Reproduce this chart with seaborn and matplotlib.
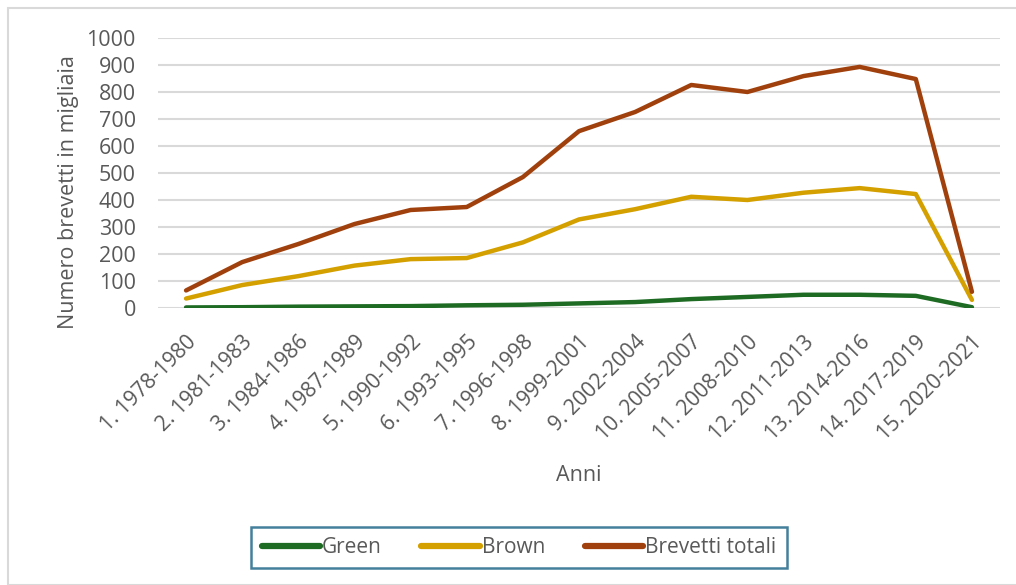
import matplotlib
matplotlib.use("Agg")
import matplotlib.pyplot as plt
import matplotlib.patches as mpatches
import numpy as np
import pandas as pd
import seaborn as sns

periodi = ["1. 1978-1980", "2. 1981-1983", "3. 1984-1986", "4. 1987-1989",
           "5. 1990-1992", "6. 1993-1995", "7. 1996-1998", "8. 1999-2001",
           "9. 2002-2004", "10. 2005-2007", "11. 2008-2010", "12. 2011-2013",
           "13. 2014-2016", "14. 2017-2019", "15. 2020-2021"]
green = [2, 3, 5, 6, 7, 10, 12, 17, 22, 33, 41, 49, 49, 45, 3]
brown = [35, 85, 118, 157, 181, 185, 243, 328, 366, 412, 400, 427, 444, 422, 30]
totali = [65, 170, 237, 311, 363, 374, 485, 655, 726, 826, 800, 859, 893, 848, 60]
series_names = ["Green", "Brown", "Brevetti totali"]
y_ticks = [0, 100, 200, 300, 400, 500, 600, 700, 800, 900, 1000]

colors = {"Green": "#1E6B24", "Brown": "#D4A000", "Brevetti totali": "#A0410D"}
text_color = "#595959"

df = pd.DataFrame({
    "pos": list(range(len(periodi))) * 3,
    "valore": green + brown + totali,
    "serie": [series_names[0]] * len(periodi) + [series_names[1]] * len(periodi)
             + [series_names[2]] * len(periodi),
})

sns.set_theme(style="white")
plt.rcParams["font.family"] = ["Open Sans", "DejaVu Sans"]

fig = plt.figure(figsize=(10.16, 5.85), dpi=100)
# outer chart border
fig.patches.append(mpatches.Rectangle((8 / 1016, 0), 1.2, 1 - 8 / 585, transform=fig.transFigure,
                                      fill=False, edgecolor="#D9D9D9", linewidth=1.5, zorder=0))

ax = fig.add_axes([158 / 1016, 1 - 308 / 585, 842 / 1016, 270 / 585])
sns.lineplot(data=df, x="pos", y="valore", hue="serie", palette=colors,
             hue_order=series_names, linewidth=3.2, ax=ax, legend=False, sort=False)

ax.set_xlim(-0.5, len(periodi) - 0.5)
ax.set_ylim(0, 1000)
ax.set_yticks(y_ticks)
ax.set_yticklabels([str(v) for v in y_ticks], fontsize=15.5, color=text_color)
ax.set_xticks(range(len(periodi)))
ax.set_xticklabels(periodi, rotation=45, ha="right", rotation_mode="anchor",
                   fontsize=15.2, color=text_color)
ax.tick_params(axis="both", length=0)
ax.tick_params(axis="x", pad=17)
ax.tick_params(axis="y", pad=16)
ax.grid(axis="y", color="#D9D9D9", linewidth=1.5)
ax.set_axisbelow(True)
for s in ax.spines.values():
    s.set_visible(False)

ax.set_xlabel("Anni", fontsize=15.5, color=text_color)
ax.xaxis.set_label_coords(0.5, -0.58)
ax.set_ylabel("Numero brevetti in migliaia", fontsize=15.5, color=text_color)
ax.yaxis.set_label_coords(-0.094, 0.43)

handles = [plt.Line2D([], [], color=colors[n], linewidth=4.5) for n in series_names]
leg = fig.legend(handles, series_names, loc="center", ncol=3,
                 bbox_to_anchor=(519 / 1016, 1 - 547.5 / 585), fontsize=15,
                 frameon=True, fancybox=False, handlelength=2.8, handletextpad=0.1,
                 columnspacing=1.9, borderpad=0.5, borderaxespad=0)
leg.get_frame().set_edgecolor("#156082")
leg.get_frame().set_linewidth(1.8)
for t in leg.get_texts():
    t.set_color(text_color)

fig.savefig("out.png", dpi=100)
